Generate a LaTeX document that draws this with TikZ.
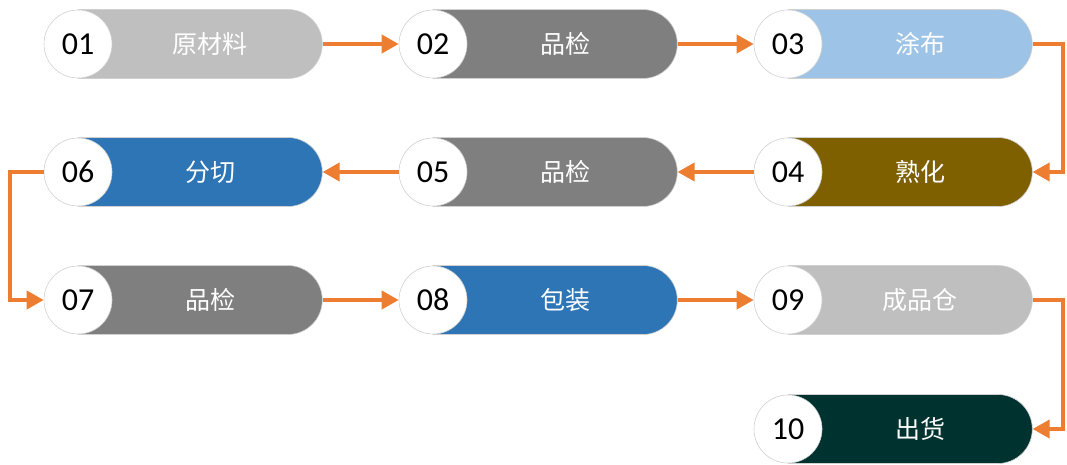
\documentclass[tikz,border=0pt]{standalone}
\usepackage{fontspec}
\setmainfont{Carlito}
\newfontfamily\cjk{Noto Sans CJK SC}
\usetikzlibrary{shapes.misc,arrows.meta}
\definecolor{orng}{HTML}{ED7D31}
\definecolor{cLgray}{HTML}{BFBFBF}
\definecolor{cDgray}{HTML}{7F7F7F}
\definecolor{cLblue}{HTML}{9DC3E6}
\definecolor{cBrown}{HTML}{7F6000}
\definecolor{cBlue}{HTML}{2E75B6}
\definecolor{cTeal}{HTML}{003330}
\definecolor{edgec}{HTML}{D0D0D0}
\newcommand\stage[6]{%
  \node[pill, fill=#4] (p#1) at (#2+34,#3) {};
  \node[numc] (c#1) at (#2+34,#3) {#5};
  \node[lbl] (t#1) at (#2+166,#3) {#6};}
\begin{document}
\begin{tikzpicture}[x=1pt,y=-1pt,
  pill/.style={rounded rectangle, rounded rectangle left arc=none, minimum width=244pt, minimum height=69pt, inner sep=0pt, draw=edgec, line width=0.6pt, anchor=west},
  numc/.style={circle, minimum size=68pt, inner sep=0pt, fill=white, draw=edgec, line width=0.6pt, font=\fontsize{32}{32}\selectfont, text=black},
  lbl/.style={text=white, font=\cjk\fontsize{25}{25}\selectfont, inner sep=0pt},
  conn/.style={draw=orng, line width=3.8pt, -{Triangle[length=17pt,width=18pt]}}]
\useasboundingbox (0,0) rectangle (1067,464);
\stage{1}{44}{44}{cLgray}{01}{原材料}
\stage{2}{399}{44}{cDgray}{02}{品检}
\stage{3}{754}{44}{cLblue}{03}{涂布}
\stage{4}{754}{172}{cBrown}{04}{熟化}
\stage{5}{399}{172}{cDgray}{05}{品检}
\stage{6}{44}{172}{cBlue}{06}{分切}
\stage{7}{44}{300}{cDgray}{07}{品检}
\stage{8}{399}{300}{cBlue}{08}{包装}
\stage{9}{754}{300}{cLgray}{09}{成品仓}
\stage{10}{754}{429}{cTeal}{10}{出货}
\draw[conn] (p1.east) -- (c2.west);
\draw[conn] (p2.east) -- (c3.west);
\draw[conn] (p3.east) -- ++(30,0) |- (p4.east);
\draw[conn] (c4.west) -- (p5.east);
\draw[conn] (c5.west) -- (p6.east);
\draw[conn] (c6.west) -- ++(-34,0) |- (c7.west);
\draw[conn] (p7.east) -- (c8.west);
\draw[conn] (p8.east) -- (c9.west);
\draw[conn] (p9.east) -- ++(30,0) |- (p10.east);
\end{tikzpicture}
\end{document}
